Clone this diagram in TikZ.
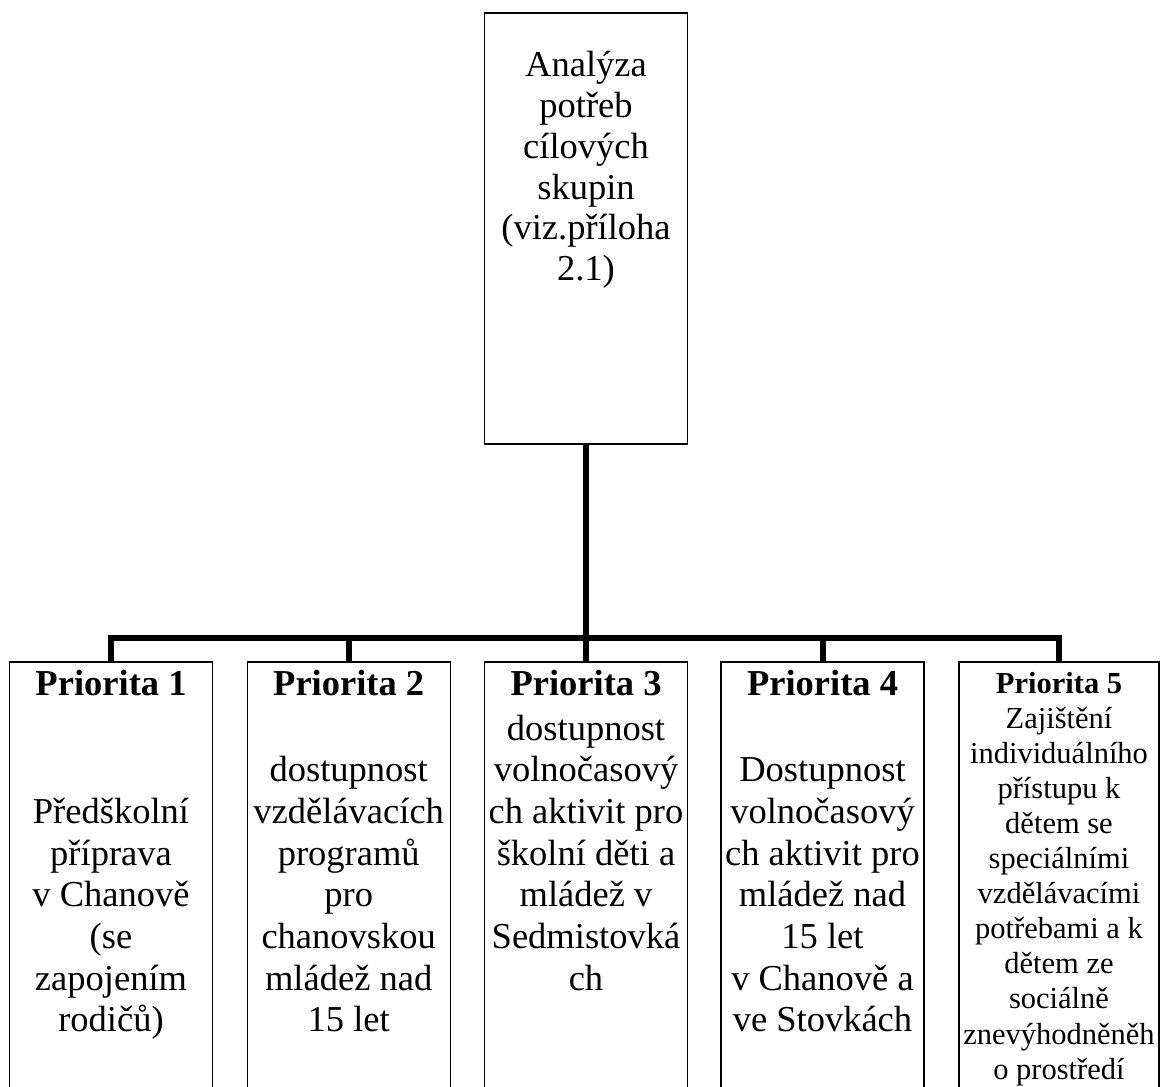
\documentclass[tikz,border=0pt]{standalone}
\usepackage{fontspec}
\setmainfont{Liberation Serif}
\begin{document}
\begin{tikzpicture}[x=1pt,y=-1pt,
  box/.style={draw=black,line width=1.3pt,rectangle,inner sep=0pt,
    minimum width=203pt},
  conn/.style={draw=black,line width=6pt},
  % multi-line texts are placed by the baseline of their last line
  bigtxt/.style={align=center,inner sep=0pt,anchor=base,
    font=\fontsize{36.5}{41.7}\selectfont},
  smalltxt/.style={align=center,inner sep=0pt,anchor=base,
    font=\fontsize{30.5}{35.1}\selectfont},
  titletxt/.style={bigtxt,font=\fontsize{36.5}{41.7}\selectfont\bfseries}]
\clip (0,0) rectangle (1160,1087);
\fill[white] (0,0) rectangle (1160,1087);

% top box: needs analysis
\node[box,minimum height=431pt] (top) at (586,228.5) {};
\node[bigtxt,font=\fontsize{36.5}{40.8}\selectfont] (toptxt) at (586,280.7)
  {Analýza\\potřeb\\cílových\\skupin\\(viz.příloha\\2.1)};

% priority boxes (run past the lower edge)
\node[box,minimum height=440pt] (p1) at (111,882) {};
\node[box,minimum height=440pt] (p2) at (348.7,882) {};
\node[box,minimum height=440pt] (p3) at (586,882) {};
\node[box,minimum height=440pt] (p4) at (822.5,882) {};
\node[box,minimum height=440pt,minimum width=200pt] (p5) at (1059,882) {};

% titles
\node[titletxt] (t1) at (111,695.5) {Priorita 1};
\node[titletxt] (t2) at (348.7,695.5) {Priorita 2};
\node[titletxt] (t3) at (586,695.5) {Priorita 3};
\node[titletxt] (t4) at (822.5,695.5) {Priorita 4};

% bodies
\node[bigtxt] (b1) at (111,1031.9)
  {Předškolní\\příprava\\v~Chanově\\(se\\zapojením\\rodičů)};
\node[bigtxt] (b2) at (348.7,1031.9)
  {dostupnost\\vzdělávacích\\programů\\pro\\chanovskou\\mládež nad\\15 let};
\node[bigtxt] (b3) at (586,990.2)
  {dostupnost\\volnočasový\\ch aktivit pro\\školní děti a\\mládež v\\Sedmistovká\\ch};
\node[bigtxt] (b4) at (822.5,1031.9)
  {Dostupnost\\volnočasový\\ch aktivit pro\\mládež nad\\15 let\\v~Chanově a\\ve Stovkách};
\node[smalltxt] (b5) at (1059,1079.1)
  {\textbf{Priorita 5}\\Zajištění\\individuálního\\přístupu k\\dětem se\\speciálními\\vzdělávacími\\potřebami a k\\dětem ze\\sociálně\\znevýhodněněh\\o prostředí};

% connectors
\coordinate (bar) at (586,638);
\draw[conn] (top.south) -- (bar);
\draw[conn] (p1.north) |- (bar) -| (p5.north);
\draw[conn] (p2.north) -- (p2.north |- bar);
\draw[conn] (p3.north) -- (bar);
\draw[conn] (p4.north) -- (p4.north |- bar);
\end{tikzpicture}
\end{document}
